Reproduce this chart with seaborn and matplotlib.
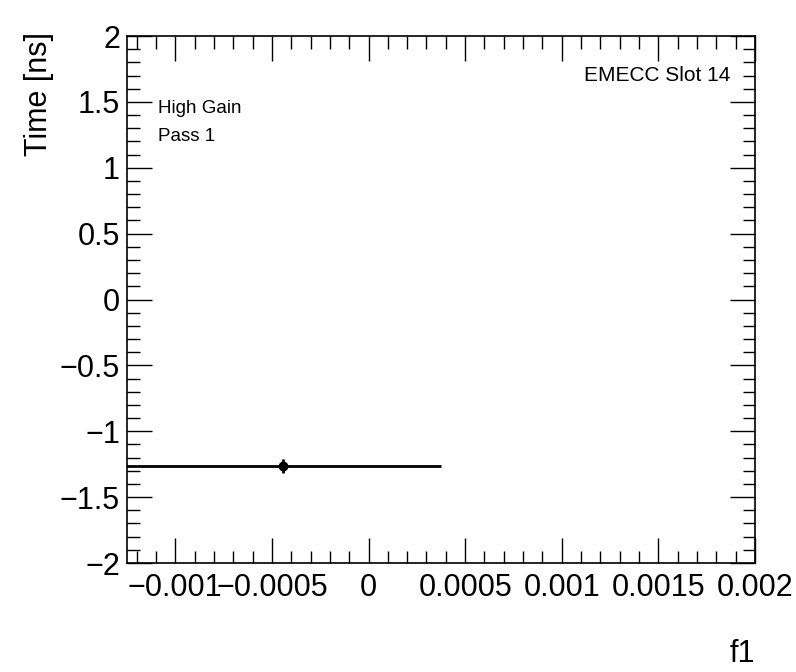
import numpy as np
import pandas as pd
import matplotlib
matplotlib.use("Agg")
import matplotlib.pyplot as plt
import seaborn as sns
from matplotlib.ticker import MultipleLocator, FuncFormatter

# --- data ---
f1_values = [-0.000445]
time_values = [-1.264]
f1_errors = [0.00082]
time_errors = [0.05]

x_limits = (-0.00125, 0.002)
y_limits = (-2.0, 2.0)

sns.set_style("ticks")
plt.rcParams['font.family'] = ['Liberation Sans', 'DejaVu Sans']
plt.rcParams['axes.unicode_minus'] = True
plt.rcParams['text.color'] = 'black'

df = pd.DataFrame({'f1': f1_values, 'time': time_values,
                   'xerr': f1_errors, 'yerr': time_errors})

fig = plt.figure(figsize=(7.96, 6.72), dpi=100)
ax = fig.add_axes([0.1595, 0.1622, 0.7890, 0.7842])

# error bars, then the marker
ax.errorbar(df['f1'], df['time'], xerr=df['xerr'], yerr=df['yerr'],
            fmt='none', ecolor='black', elinewidth=2, capsize=0, zorder=2)
sns.scatterplot(data=df, x='f1', y='time', ax=ax, color='black',
                s=50, edgecolor='black', linewidth=0, zorder=3, legend=False)

ax.set_xlim(*x_limits)
ax.set_ylim(*y_limits)

def root_fmt(v, pos):
    s = "%g" % round(v, 8)
    if s == "-0":
        s = "0"
    return s.replace("-", "\u2212")

ax.xaxis.set_major_locator(MultipleLocator(0.0005))
ax.xaxis.set_minor_locator(MultipleLocator(0.0001))
ax.yaxis.set_major_locator(MultipleLocator(0.5))
ax.yaxis.set_minor_locator(MultipleLocator(0.1))
ax.xaxis.set_major_formatter(FuncFormatter(root_fmt))
ax.yaxis.set_major_formatter(FuncFormatter(root_fmt))

ax.tick_params(which='both', direction='in', top=True, right=True,
               width=1, colors='black', labelsize=22)
ax.tick_params(which='major', length=18)
ax.tick_params(which='minor', length=9)
ax.tick_params(axis='x', which='major', pad=7)
ax.tick_params(axis='y', which='major', pad=5)

for sp in ax.spines.values():
    sp.set_linewidth(1.2)
    sp.set_color('black')

ax.set_xlabel('')
ax.set_ylabel('')
fig.text(0.049, 0.952, 'Time [ns]', rotation=90, ha='center', va='top',
         fontsize=22, color='black')
fig.text(0.9485, 0.005, 'f1', ha='right', va='bottom', fontsize=22, color='black')

ax.text(0.05, 0.863, 'High Gain', transform=ax.transAxes, fontsize=13.5,
        va='center', color='black')
ax.text(0.05, 0.810, 'Pass 1', transform=ax.transAxes, fontsize=13.5,
        va='center', color='black')
ax.text(0.96, 0.925, 'EMECC Slot 14', transform=ax.transAxes, fontsize=15,
        ha='right', va='center', color='black')

fig.savefig('out.png', dpi=100)
